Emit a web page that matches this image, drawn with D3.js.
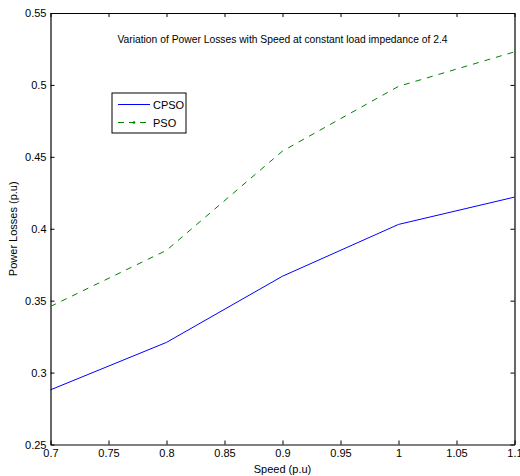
<!DOCTYPE html>
<html><head><meta charset="utf-8">
<script src="https://cdn.jsdelivr.net/npm/d3@7"></script>
<style>body{margin:0;background:#fff;} svg{display:block;font-family:"Liberation Sans",Arial,sans-serif;}</style>
</head><body>
<svg id="c" width="520" height="476"></svg>
<script>
const speeds = [0.7, 0.8, 0.9, 1.0, 1.1];
const cpso = [0.288, 0.321, 0.367, 0.403, 0.422];
const pso = [0.346, 0.385, 0.454, 0.499, 0.523];
const xTicks = [0.7, 0.75, 0.8, 0.85, 0.9, 0.95, 1, 1.05, 1.1];
const yTicks = [0.25, 0.3, 0.35, 0.4, 0.45, 0.5, 0.55];
const titleText = "Variation of Power Losses with Speed at constant load impedance of 2.4";

const svg = d3.select("#c");
const L = 50.5, R = 514.5, T = 13, B = 444.5;
const x = d3.scaleLinear().domain([0.7, 1.1]).range([L, R]);
const y = d3.scaleLinear().domain([0.25, 0.55]).range([B, T]);
const fmt = d => String(+d.toFixed(2));

const gx = svg.append("g").attr("transform", `translate(0,${B})`)
  .call(d3.axisBottom(x).tickValues(xTicks).tickFormat(fmt).tickSizeInner(-4).tickSizeOuter(0).tickPadding(6));
const gxt = svg.append("g").attr("transform", `translate(0,${T})`)
  .call(d3.axisTop(x).tickValues(xTicks).tickFormat("").tickSizeInner(-4).tickSizeOuter(0));
const gy = svg.append("g").attr("transform", `translate(${L},0)`)
  .call(d3.axisLeft(y).tickValues(yTicks).tickFormat(fmt).tickSizeInner(-4).tickSizeOuter(0).tickPadding(4));
const gyr = svg.append("g").attr("transform", `translate(${R},0)`)
  .call(d3.axisRight(y).tickValues(yTicks).tickFormat("").tickSizeInner(-4).tickSizeOuter(0));
[gx, gxt, gy, gyr].forEach(g => {
  g.selectAll(".domain").attr("stroke", "#000").attr("stroke-width", 1.2);
  g.selectAll(".tick line").attr("stroke", "#000");
  g.selectAll("text").attr("fill", "#000").style("font-size", "11px").style("font-family", '"Liberation Sans",Arial,sans-serif');
});
gx.selectAll("text").attr("dy", "0.6em");

const line = d3.line().x((d, i) => x(speeds[i])).y(d => y(d));
svg.append("path").datum(cpso).attr("d", line).attr("fill", "none").attr("stroke", "#0000ff").attr("stroke-width", 1);
svg.append("path").datum(pso).attr("d", line).attr("fill", "none").attr("stroke", "#008000").attr("stroke-width", 1).attr("stroke-dasharray", "6,6");

svg.append("text").attr("x", (L + R) / 2).attr("y", 43).attr("text-anchor", "middle")
  .style("font-size", "10.3px").text(titleText);
svg.append("text").attr("x", (L + R) / 2).attr("y", 473).attr("text-anchor", "middle")
  .style("font-size", "11px").text("Speed (p.u)");
svg.append("text").attr("transform", `translate(17,${(T + B) / 2}) rotate(-90)`).attr("text-anchor", "middle")
  .style("font-size", "11px").text("Power Losses  (p.u)");

const lg = svg.append("g");
lg.append("rect").attr("x", 112).attr("y", 93).attr("width", 74).attr("height", 40)
  .attr("fill", "#fff").attr("stroke", "#000").attr("stroke-width", 1);
lg.append("line").attr("x1", 118).attr("x2", 150).attr("y1", 104.5).attr("y2", 104.5).attr("stroke", "#0000ff");
lg.append("text").attr("x", 153).attr("y", 108.5).style("font-size", "11px").text("CPSO");
lg.append("line").attr("x1", 118).attr("x2", 150).attr("y1", 122.5).attr("y2", 122.5).attr("stroke", "#008000").attr("stroke-dasharray", "6,5");
lg.append("circle").attr("cx", 134).attr("cy", 122.5).attr("r", 1.3).attr("fill", "#008000");
lg.append("text").attr("x", 153).attr("y", 126.5).style("font-size", "11px").text("PSO");
</script>
</body></html>
